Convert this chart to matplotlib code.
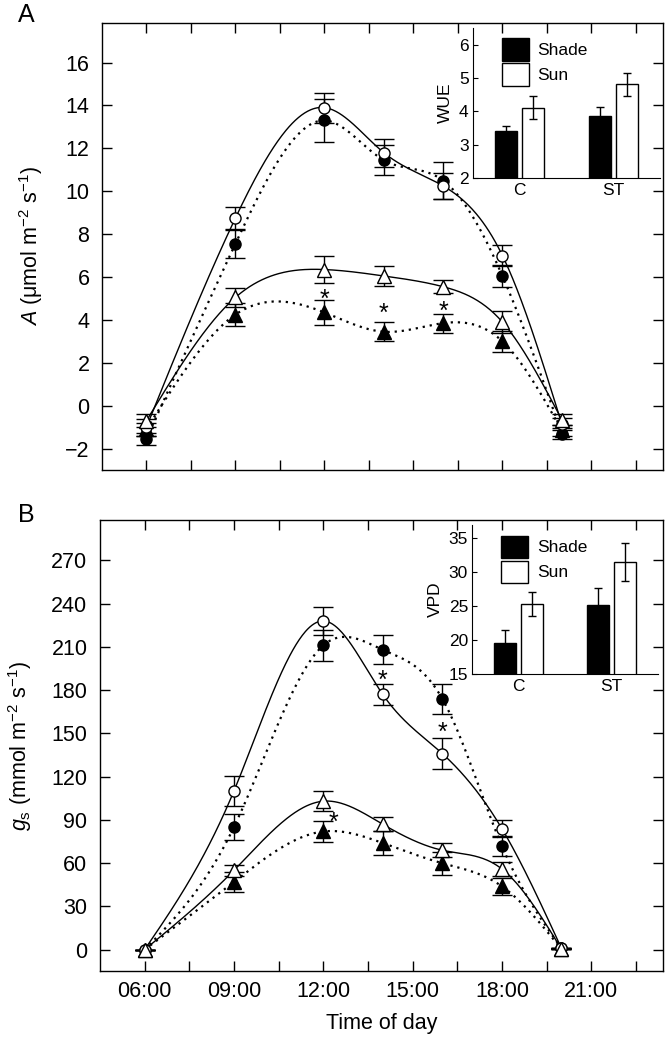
import numpy as np
import matplotlib
matplotlib.use('Agg')
import matplotlib.pyplot as plt
from matplotlib.patches import Patch

plt.rcParams['font.family'] = ['Liberation Sans', 'DejaVu Sans']
plt.rcParams['mathtext.fontset'] = 'custom'
plt.rcParams['mathtext.rm'] = 'Liberation Sans'
plt.rcParams['mathtext.it'] = 'Liberation Sans:italic'

# --- data -------------------------------------------------------------
hours = [6, 9, 12, 14, 16, 18, 20]

# panel A: net assimilation
a_sun_c = [-1.0, 8.75, 13.9, 11.8, 10.25, 7.0, -0.85]
a_sun_c_err = [0.4, 0.5, 0.7, 0.65, 0.6, 0.5, 0.3]
a_shade_c = [-1.55, 7.55, 13.3, 11.45, 10.5, 6.05, -1.3]
a_shade_c_err = [0.3, 0.65, 1.0, 0.7, 0.85, 0.5, 0.25]
a_sun_t = [-0.7, 5.05, 6.35, 6.05, 5.55, 3.9, -0.65]
a_sun_t_err = [0.3, 0.45, 0.65, 0.45, 0.3, 0.5, 0.25]
a_shade_t = [-1.1, 4.25, 4.35, 3.45, 3.85, 3.0, -1.15]
a_shade_t_err = [0.3, 0.55, 0.6, 0.45, 0.45, 0.5, 0.25]
a_star_x = [12, 14, 16]
a_star_y = [5.2, 4.55, 4.65]

# panel B: stomatal conductance
b_sun_c = [0, 110, 228, 177, 136, 84, 1]
b_sun_c_err = [0, 10.5, 9.5, 7.5, 11, 6, 0]
b_shade_c = [0, 85, 211, 208, 174, 72, 1]
b_shade_c_err = [0, 9, 10.5, 10, 10.5, 7, 0]
b_sun_t = [0, 55, 103, 87, 69, 56, 0.5]
b_sun_t_err = [0, 4, 7, 5, 5, 5, 0]
b_shade_t = [0, 47, 82, 74, 60, 44, 0.5]
b_shade_t_err = [0, 7, 7, 8, 8, 6, 0]
b_star_x = [14, 16, 12.35]
b_star_y = [190, 154, 92]

# insets
groups = ['C', 'ST']
wue_shade = [3.41, 3.86]
wue_shade_err = [0.14, 0.27]
wue_sun = [4.11, 4.81]
wue_sun_err = [0.35, 0.34]
vpd_shade = [19.5, 25.2]
vpd_shade_err = [1.9, 2.4]
vpd_sun = [25.3, 31.45]
vpd_sun_err = [1.8, 2.8]


def natural_spline(x, y, xs):
    x = np.asarray(x, float); y = np.asarray(y, float)
    n = len(x)
    h = np.diff(x)
    M = np.zeros((n, n)); r = np.zeros(n)
    M[0, 0] = M[-1, -1] = 1
    for i in range(1, n - 1):
        M[i, i - 1] = h[i - 1]
        M[i, i] = 2 * (h[i - 1] + h[i])
        M[i, i + 1] = h[i]
        r[i] = 3 * ((y[i + 1] - y[i]) / h[i] - (y[i] - y[i - 1]) / h[i - 1])
    c = np.linalg.solve(M, r)
    out = np.empty_like(xs)
    for k, xv in enumerate(xs):
        i = min(np.searchsorted(x, xv, side='right') - 1, n - 2)
        i = max(i, 0)
        t = xv - x[i]
        b = (y[i + 1] - y[i]) / h[i] - h[i] * (2 * c[i] + c[i + 1]) / 3
        d = (c[i + 1] - c[i]) / (3 * h[i])
        out[k] = y[i] + b * t + c[i] * t ** 2 + d * t ** 3
    return out


def draw_series(ax, y, err, marker, filled, dotted):
    xs = np.linspace(hours[0], hours[-1], 400)
    ls = (0, (1, 2.2)) if dotted else '-'
    lw = 1.6 if dotted else 1.0
    ax.plot(xs, natural_spline(hours, y, xs), color='black', ls=ls, lw=lw, zorder=2)
    ax.errorbar(hours, y, yerr=err, fmt='none', ecolor='black', elinewidth=1.0,
                capsize=7, capthick=1.0, zorder=3)
    ms = 8 if marker == 'o' else 9.5
    ax.plot(hours, y, ls='none', marker=marker, ms=ms,
            mfc='black' if filled else 'white', mec='black', mew=1.0, zorder=4)


def draw_stars(ax, xs, ys):
    # the asterisk glyph sits high in its box, so pull it down a little
    for x, y in zip(xs, ys):
        ax.annotate('*', (x, y), xytext=(0, -4), textcoords='offset points',
                    ha='center', va='center', fontsize=18)


def style_main(ax, ylim, yticks):
    ax.set_xlim(4.5, 23.4)
    ax.set_ylim(*ylim)
    ax.set_xticks([6, 9, 12, 15, 18, 21])
    ax.set_xticks([7.5, 10.5, 13.5, 16.5, 19.5, 22.5], minor=True)
    ax.set_yticks(yticks)
    ax.tick_params(which='both', direction='in', length=7, width=1,
                   top=True, right=True, labelsize=15.5)
    ax.tick_params(axis='x', pad=7)
    ax.tick_params(axis='y', pad=9)
    for s in ax.spines.values():
        s.set_linewidth(1.0)


def draw_inset(ax, shade, shade_err, sun, sun_err, ylim, yticks, label):
    x = np.arange(len(groups))
    w = 0.235
    ax.bar(x - 0.145, shade, w, color='black', edgecolor='black', lw=1,
           yerr=shade_err, capsize=3, error_kw=dict(lw=1, capthick=1))
    ax.bar(x + 0.145, sun, w, color='white', edgecolor='black', lw=1,
           yerr=sun_err, capsize=3, error_kw=dict(lw=1, capthick=1))
    ax.set_xlim(-0.5, 1.5)
    ax.set_ylim(*ylim)
    ax.set_yticks(yticks)
    ax.set_xticks(x)
    ax.set_xticklabels(groups)
    ax.set_facecolor('none')
    ax.spines['top'].set_visible(False)
    ax.spines['right'].set_visible(False)
    ax.tick_params(axis='y', direction='in', length=3.5, labelsize=12.5, pad=3)
    ax.tick_params(axis='x', length=0, labelsize=12.5, pad=4)
    ax.set_ylabel(label, fontsize=12.5, labelpad=4)
    handles = [Patch(facecolor='black', edgecolor='black', label='Shade'),
               Patch(facecolor='white', edgecolor='black', label='Sun')]
    ax.legend(handles=handles, loc='upper left', bbox_to_anchor=(0.1, 1.0),
              frameon=False, fontsize=12.5, handlelength=1.55, handleheight=1.6,
              handletextpad=0.5, labelspacing=0.15, borderaxespad=0.2)


fig = plt.figure(figsize=(6.66, 10.4), dpi=100)

# panel A  (shade series first so open sun markers sit on top)
axA = fig.add_axes([0.153, 0.548, 0.842, 0.430])
draw_series(axA, a_shade_c, a_shade_c_err, 'o', True, True)
draw_series(axA, a_shade_t, a_shade_t_err, '^', True, True)
draw_series(axA, a_sun_c, a_sun_c_err, 'o', False, False)
draw_series(axA, a_sun_t, a_sun_t_err, '^', False, False)
draw_stars(axA, a_star_x, a_star_y)
style_main(axA, (-3, 17.85), [-2, 0, 2, 4, 6, 8, 10, 12, 14, 16])
axA.tick_params(axis='x', labelbottom=False)
axA.set_ylabel(r'$\mathit{A}$ (μmol m$^{-2}$ s$^{-1}$)', fontsize=15.5)
axA.yaxis.set_label_coords(-0.102, 0.5)
fig.text(0.027, 0.997, 'A', fontsize=18, va='top', ha='left')

# panel B
axB = fig.add_axes([0.150, 0.066, 0.845, 0.434])
draw_series(axB, b_shade_c, b_shade_c_err, 'o', True, True)
draw_series(axB, b_shade_t, b_shade_t_err, '^', True, True)
draw_series(axB, b_sun_c, b_sun_c_err, 'o', False, False)
draw_series(axB, b_sun_t, b_sun_t_err, '^', False, False)
draw_stars(axB, b_star_x, b_star_y)
style_main(axB, (-15, 298), [0, 30, 60, 90, 120, 150, 180, 210, 240, 270])
axB.set_xticklabels(['06:00', '09:00', '12:00', '15:00', '18:00', '21:00'])
axB.set_xlabel('Time of day', fontsize=15.5, labelpad=8)
axB.set_ylabel(r'$g_{\rm s}$ (mmol m$^{-2}$ s$^{-1}$)', fontsize=15.5)
axB.yaxis.set_label_coords(-0.117, 0.5)
fig.text(0.027, 0.516, 'B', fontsize=18, va='top', ha='left')

# insets
insA = fig.add_axes([0.710, 0.829, 0.281, 0.144])
draw_inset(insA, wue_shade, wue_shade_err, wue_sun, wue_sun_err,
           (2, 6.5), [2, 3, 4, 5, 6], 'WUE')
insB = fig.add_axes([0.709, 0.352, 0.279, 0.143])
draw_inset(insB, vpd_shade, vpd_shade_err, vpd_sun, vpd_sun_err,
           (15, 36.9), [15, 20, 25, 30, 35], 'VPD')

fig.savefig('out.png', dpi=100)
